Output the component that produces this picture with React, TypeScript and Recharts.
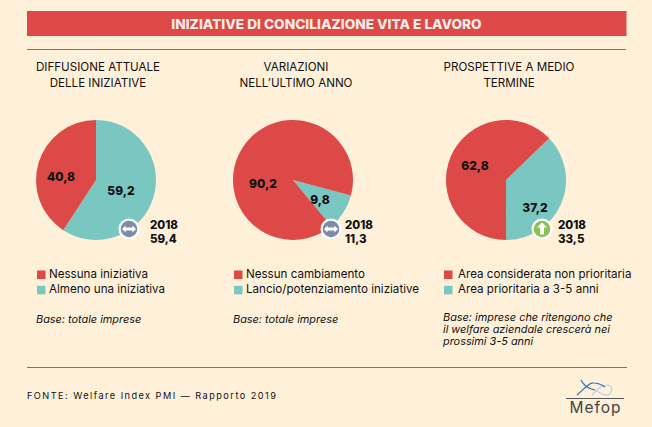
import React from "react";
import { PieChart, Pie, Cell } from "recharts";

const RED = "#DC4946";
const TEAL = "#7AC7C1";
const BG = "#FFF0D9";
const FONT = "Inter, 'Open Sans', sans-serif";

const valuesA = [59.2, 40.8];
const valuesB = [9.8, 90.2];
const valuesC = [37.2, 62.8];
const namesA = ["Almeno una iniziativa", "Nessuna iniziativa"];
const namesB = ["Lancio/potenziamento iniziative", "Nessun cambiamento"];
const namesC = ["Area prioritaria a 3-5 anni", "Area considerata non prioritaria"];
const titleA = ["DIFFUSIONE ATTUALE", "DELLE INIZIATIVE"];
const titleB = ["VARIAZIONI", "NELL’ULTIMO ANNO"];
const titleC = ["PROSPETTIVE A MEDIO", "TERMINE"];
const prevA = ["2018", "59,4"];
const prevB = ["2018", "11,3"];
const prevC = ["2018", "33,5"];
const baseA = ["Base: totale imprese"];
const baseB = ["Base: totale imprese"];
const baseC = ["Base: imprese che ritengono che", "il welfare aziendale crescerà nei", "prossimi 3-5 anni"];

const toRows = (names: string[], values: number[]) =>
  names.map((name, i) => ({ name, value: values[i] }));

const fmt = (v: number) => v.toFixed(1).replace(".", ",");

const makeLabel = (offsets: number[][]) => (p: any) => {
  const o = offsets[p.index];
  return (
    <text x={p.cx + o[0]} y={p.cy + o[1]} textAnchor="middle" dominantBaseline="central"
      fontFamily={FONT} fontSize={12} fontWeight={800} fill="#111">
      {fmt(p.value)}
    </text>
  );
};

const panels = [
  { cx: 96, values: valuesA, names: namesA, startAngle: 90, offs: [[25, 10], [-35, -4]] },
  { cx: 293, values: valuesB, names: namesB, startAngle: -15, offs: [[27, 19], [-30, 3]] },
  { cx: 506, values: valuesC, names: namesC, startAngle: 44, offs: [[29, 27], [-31, -15]] },
];

const Arrows = ({ x, y }: { x: number; y: number }) => (
  <g fill="#fff">
    <circle cx={x} cy={y} r={10.5} />
    <circle cx={x} cy={y} r={8.3} fill="#7C8BA6" />
    <path d={`M${x - 7} ${y} l3.6 -3.4 v2 h6.8 v-2 l3.6 3.4 l-3.6 3.4 v-2 h-6.8 v2 z`} />
  </g>
);
const Up = ({ x, y }: { x: number; y: number }) => (
  <g fill="#fff">
    <circle cx={x} cy={y} r={10.5} />
    <circle cx={x} cy={y} r={8.3} fill="#8CC057" />
    <path d={`M${x} ${y - 6.5} l5 5 h-3 v7 h-4 v-7 h-3 z`} />
  </g>
);

const Lines = ({ x, y, lines, step, anchor, ...rest }: any) => (
  <>
    {lines.map((t: string, i: number) => (
      <text key={t} x={x} y={y + i * step} textAnchor={anchor} fontFamily={FONT} {...rest}>{t}</text>
    ))}
  </>
);

const Legend = ({ x, y, names, textX }: any) => (
  <>
    {[names[1], names[0]].map((n: string, i: number) => (
      <g key={n}>
        <rect x={x} y={y + i * 15.3 - 7.5} width={8.5} height={8.5} fill={i === 0 ? RED : TEAL} />
        <text x={textX} y={y + i * 15.3} fontFamily={FONT} fontSize={11.6} fill="#111">{n}</text>
      </g>
    ))}
  </>
);

export default function App() {
  return (
    <div style={{ position: "fixed", left: 0, top: 0, width: 652, height: 427, background: BG, overflow: "hidden" }}>
      <div style={{ position: "absolute", left: 0, top: 0 }}>
        <PieChart width={652} height={427} margin={{ top: 0, right: 0, bottom: 0, left: 0 }}>
          {panels.map((p) => (
            <Pie key={p.cx} data={toRows(p.names, p.values)} dataKey="value" nameKey="name"
              cx={p.cx} cy={180} outerRadius={60} innerRadius={0}
              startAngle={p.startAngle} endAngle={p.startAngle - 360}
              stroke="none" labelLine={false} label={makeLabel(p.offs)} isAnimationActive={false}>
              <Cell fill={TEAL} />
              <Cell fill={RED} />
            </Pie>
          ))}
        </PieChart>
      </div>
      <svg width={652} height={427} style={{ position: "absolute", left: 0, top: 0, pointerEvents: "none" }}>
        <rect x={27} y={11} width={599.5} height={25} fill={RED} />
        <text x={326.5} y={28.5} textAnchor="middle" fontFamily={FONT} fontWeight={800} fontSize={13.7} fill="#F6ECE6">
          INIZIATIVE DI CONCILIAZIONE VITA E LAVORO
        </text>
        <line x1={27} x2={626} y1={49.5} y2={49.5} stroke={RED} />
        <line x1={27} x2={627} y1={367.5} y2={367.5} stroke={RED} />

        <Lines x={98} y={71} step={16} lines={titleA} anchor="middle" fontSize={11.6} fill="#111" />
        <Lines x={296} y={71} step={16} lines={titleB} anchor="middle" fontSize={11.6} fill="#111" />
        <Lines x={509} y={71} step={16} lines={titleC} anchor="middle" fontSize={11.6} fill="#111" />

        <Arrows x={129} y={229} />
        <Arrows x={331} y={229} />
        <Up x={542} y={229} />

        <Lines x={150} y={229} step={13.5} lines={prevA} fontSize={11.5} fontWeight={800} fill="#111" />
        <Lines x={345} y={229} step={13.5} lines={prevB} fontSize={11.5} fontWeight={800} fill="#111" />
        <Lines x={558} y={229} step={13.5} lines={prevC} fontSize={11.5} fontWeight={800} fill="#111" />

        <Legend x={37} y={278} textX={49} names={namesA} />
        <Legend x={234} y={278} textX={246} names={namesB} />
        <Legend x={444} y={278} textX={458} names={namesC} />

        <Lines x={36} y={323} step={12} lines={baseA} fontSize={10.9} fontStyle="italic" fill="#111" />
        <Lines x={233} y={323} step={12} lines={baseB} fontSize={10.9} fontStyle="italic" fill="#111" />
        <Lines x={443} y={321} step={11.8} lines={baseC} fontSize={10.9} fontStyle="italic" fill="#111" />

        <text x={27} y={399} fontFamily={FONT} fontSize={9.2} letterSpacing={1.45} fill="#111">
          FONTE: Welfare Index PMI — Rapporto 2019
        </text>

        <path d="M592 395 C598 388 603 385 607 385 C613 385 613 392 608 395 C604 396 600 393 595 390" fill="none" stroke="#BBCDE8" strokeWidth={1.2} />
        <path d="M577 395 C585 388 590 382 593 383 C597 383 601 384 605 387 M581 380 C584 386 588 389 595 390" fill="none" stroke="#2A74B8" strokeWidth={1.2} />
        <line x1={566} x2={624} y1={398.5} y2={398.5} stroke="#555" />
        <text x={595.5} y={413} textAnchor="middle" fontFamily={FONT} fontSize={15.5} letterSpacing={1} fill="#444">Mefop</text>
      </svg>
    </div>
  );
}
